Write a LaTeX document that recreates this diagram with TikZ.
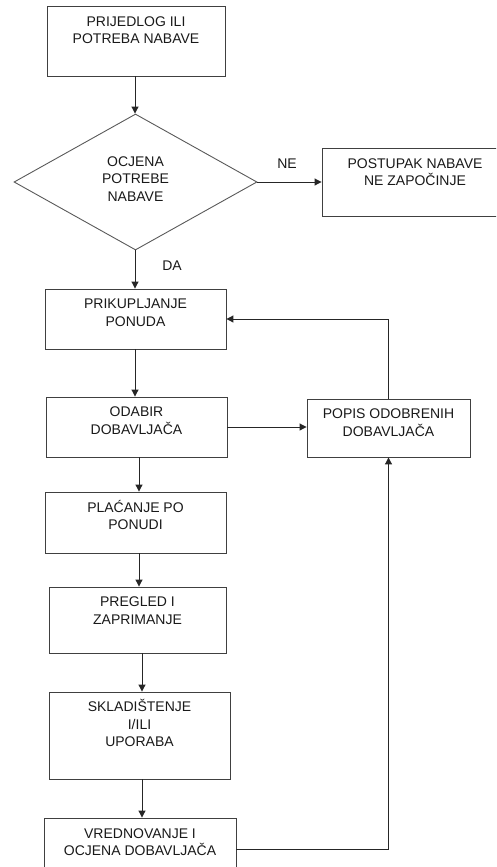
\documentclass[tikz,border=0pt]{standalone}
\usepackage{fontspec}
\setmainfont{Liberation Sans}
\usetikzlibrary{shapes.geometric,arrows.meta}
\newcommand{\fl}{\rule{0pt}{12pt}}
\tikzset{
  box/.style={draw=black!75, line width=0.9pt, rectangle, inner sep=0pt},
  txt/.style={align=center, inner sep=0pt, anchor=north, font=\fontsize{14}{17.5}\selectfont, text=black!90},
  lbl/.style={inner sep=0pt, font=\fontsize{14}{17.5}\selectfont, text=black!90},
  arr/.style={draw=black!85, line width=1pt, -{Triangle[length=7pt,width=7pt]}},
  ln/.style={draw=black!75, line width=1pt}
}
\begin{document}
\begin{tikzpicture}[x=1pt,y=-1pt]
\useasboundingbox (0,0) rectangle (496,867);
\clip (0,0) rectangle (496,867);
% boxes
\node[box, minimum width=178pt, minimum height=70pt] (b1) at (136,41) {};
\node[draw=black!65, line width=0.9pt, diamond, minimum width=243pt, minimum height=136pt, inner sep=0pt] (dia) at (135.5,182) {};
\node[box, minimum width=186pt, minimum height=68pt] (ne) at (415,182) {};
\node[box, minimum width=181pt, minimum height=60pt] (b3) at (135.5,319) {};
\node[box, minimum width=181pt, minimum height=60pt] (b4) at (136.5,427) {};
\node[box, minimum width=163pt, minimum height=58pt] (pop) at (388.5,428) {};
\node[box, minimum width=181pt, minimum height=61pt] (b5) at (135.5,522.5) {};
\node[box, minimum width=177pt, minimum height=66pt] (b6) at (137.5,620) {};
\node[box, minimum width=181pt, minimum height=87pt] (b7) at (139.5,735.5) {};
\node[box, minimum width=192pt, minimum height=62pt] (b8) at (140,849) {};
% texts
\node[txt] (t1) at ([yshift=-8.5pt]b1.north) {\fl PRIJEDLOG ILI\\POTREBA NABAVE};
\node[txt, anchor=center] (tdia) at (135.5,179) {OCJENA\\POTREBE\\NABAVE};
\node[txt] (tne) at ([yshift=-8.5pt]ne.north) {\fl POSTUPAK NABAVE\\NE ZAPOČINJE};
\node[txt] (t3) at ([yshift=-8pt]b3.north) {\fl PRIKUPLJANJE\\PONUDA};
\node[txt] (t4) at ([yshift=-8pt]b4.north) {\fl ODABIR\\DOBAVLJAČA};
\node[txt] (tpop) at ([yshift=-8pt]pop.north) {\fl POPIS ODOBRENIH\\DOBAVLJAČA};
\node[txt] (t5) at ([yshift=-8.5pt]b5.north) {\fl PLAĆANJE PO\\PONUDI};
\node[txt] (t6) at ([yshift=-8pt]b6.north) {\fl PREGLED I\\ZAPRIMANJE};
\node[txt] (t7) at ([yshift=-8pt]b7.north) {\fl SKLADIŠTENJE\\I/ILI\\UPORABA};
\node[txt] (t8) at ([yshift=-8.5pt]b8.north) {\fl VREDNOVANJE I\\OCJENA DOBAVLJAČA};
\node[lbl] (ne lbl) at (287,164) {NE};
\node[lbl] (da lbl) at (172,266) {DA};
% connectors
\draw[arr] (135,0 |- b1.south) -- (135,0 |- dia.north);
\draw[arr] (dia.east) -- (ne.west);
\draw[arr] (135,0 |- dia.south) -- (135,0 |- b3.north);
\draw[arr] (135,0 |- b3.south) -- (135,0 |- b4.north);
\draw[arr] (b4.east) -- (b4.east -| pop.west);
\draw[arr] (pop.north) |- (b3.east);
\draw[arr] (139,0 |- b4.south) -- (139,0 |- b5.north);
\draw[arr] (139,0 |- b5.south) -- (139,0 |- b6.north);
\draw[arr] (142,0 |- b6.south) -- (142,0 |- b7.north);
\draw[arr] (142,0 |- b7.south) -- (142,0 |- b8.north);
\draw[arr] (b8.east) -| (pop.south);
\end{tikzpicture}
\end{document}
